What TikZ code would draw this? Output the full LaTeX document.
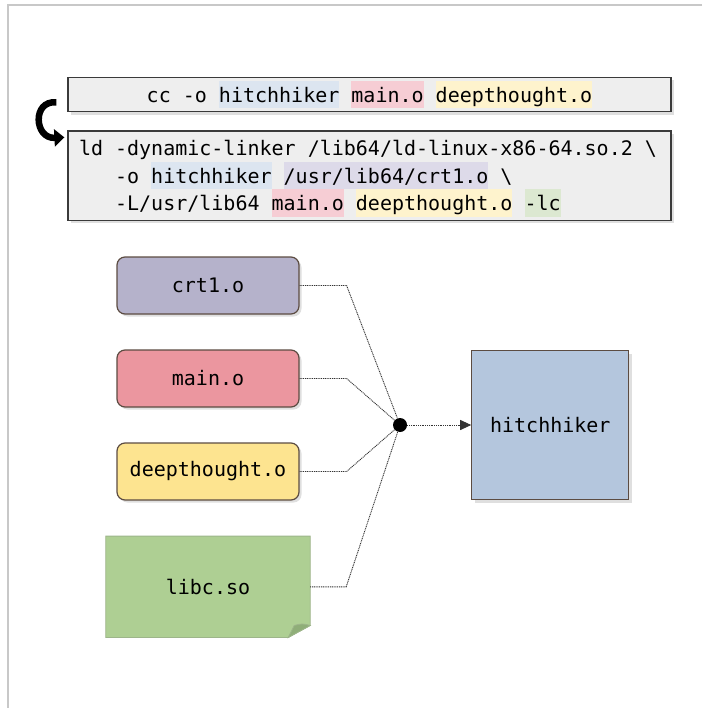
\documentclass[tikz,border=0pt]{standalone}
\usepackage{fontspec}
\setmonofont{DejaVu Sans Mono}
\usepackage{tikz}
\usetikzlibrary{positioning,arrows.meta,shadows,backgrounds}

\definecolor{cmdgray}{HTML}{EEEEEE}
\definecolor{cmdline}{HTML}{3A3A3A}
\definecolor{hlblue}{HTML}{DCE5F0}
\definecolor{hlpink}{HTML}{F6CDD4}
\definecolor{hlyellow}{HTML}{FEF3CD}
\definecolor{hlpurple}{HTML}{DDDAE9}
\definecolor{hlgreen}{HTML}{DCE8D1}
\definecolor{crtfill}{HTML}{B5B2CB}
\definecolor{mainfill}{HTML}{EB969F}
\definecolor{deepfill}{HTML}{FDE490}
\definecolor{libcfill}{HTML}{AECF93}
\definecolor{libcflap}{HTML}{8FAE78}
\definecolor{libcline}{HTML}{9DB58A}
\definecolor{hitchfill}{HTML}{B4C6DD}
\definecolor{objline}{HTML}{5C4C42}
\definecolor{wiregray}{HTML}{333333}
\definecolor{framegray}{HTML}{C8C8C8}

\newcommand{\codefont}{\ttfamily\fontsize{20}{27.5}\selectfont}
\newcommand{\codespace}{\spaceskip=\fontcharwd\font 120\relax\xspaceskip=\spaceskip}
\newcommand{\lstrut}{\rule[-6pt]{0pt}{27.5pt}}
\newcommand{\hl}[2]{{\setlength{\fboxsep}{0pt}\colorbox{#1}{\lstrut#2}}}

\tikzset{
  code/.style={font=\codefont},
  cmdbox/.style={code, draw=cmdline, fill=cmdgray, line width=1.2pt,
    minimum width=603pt, inner ysep=3.5pt,
    drop shadow={shadow xshift=3pt, shadow yshift=-3pt, opacity=.25}},
  objbox/.style={code, draw=objline, line width=1.2pt, rounded corners=8pt,
    minimum width=182pt, minimum height=57pt,
    drop shadow={shadow xshift=2.5pt, shadow yshift=-2.5pt, opacity=.25}},
  exebox/.style={code, draw=objline, fill=hitchfill, line width=1.2pt,
    minimum width=157pt, minimum height=149pt,
    drop shadow={shadow xshift=3pt, shadow yshift=-3pt, opacity=.25}},
  notebox/.style={code, minimum width=204pt, minimum height=101pt},
  junction/.style={circle, fill=black, inner sep=0pt, minimum size=14pt},
  wire/.style={draw=wiregray, line width=0.9pt, dash pattern=on 1pt off 0.8pt},
}

\begin{document}
\begin{tikzpicture}[x=1pt,y=-1pt]

  \useasboundingbox (0,0) rectangle (702,708);
  \draw[framegray, line width=1.5pt] (702,5) -- (8,5) -- (8,708);

  \node[cmdbox] (cc) at (369.5,94.5) {\lstrut cc -o \hl{hlblue}{hitchhiker} \hl{hlpink}{main.o} \hl{hlyellow}{deepthought.o}};
  \node[cmdbox, text width=581pt, inner xsep=11pt, align=left] (ld) at (369.5,175.75) {\codespace
    \lstrut ld -dynamic-linker /lib64/ld-linux-x86-64.so.2 \textbackslash\\
    \lstrut\hspace*{36.12pt}-o \hl{hlblue}{hitchhiker} \hl{hlpurple}{/usr/lib64/crt1.o} \textbackslash\\
    \lstrut\hspace*{36.12pt}-L/usr/lib64 \hl{hlpink}{main.o} \hl{hlyellow}{deepthought.o} \hl{hlgreen}{-lc}};

  \draw[line width=6.5pt, -{Triangle[length=10pt,width=17pt]}]
    ([xshift=-11pt,yshift=10pt]cc.south west) .. controls (32,100) and (34,139) .. ([xshift=-3pt,yshift=-7pt]ld.north west);

  \node[objbox, fill=crtfill] (crt1) at (208,285.5) {crt1.o};
  \node[objbox, fill=mainfill] (main) [below=34.8pt of crt1] {main.o};
  \node[objbox, fill=deepfill] (deep) [below=34.8pt of main] {deepthought.o};
  \node[notebox] (libc) [below=35.5pt of deep] {libc.so};

  \node[junction] (dot) at (400,425) {};
  \node[exebox] (hitch) [right=64pt of dot] {hitchhiker};

  \begin{scope}[on background layer]
    \fill[black, opacity=.22, shift={(4pt,-4pt)}] (libc.north west) -- (libc.north east) -- ([yshift=12pt]libc.south east)
      -- ([xshift=-22pt]libc.south east) -- (libc.south west) -- cycle;
    \filldraw[fill=libcfill, draw=libcline, line width=0.8pt] (libc.north west) -- (libc.north east) -- ([yshift=12pt]libc.south east)
      -- ([xshift=-22pt]libc.south east) -- (libc.south west) -- cycle;
    \filldraw[fill=libcflap, draw=libcline, line width=0.8pt] ([xshift=-22pt]libc.south east) -- ([xshift=-16pt,yshift=12pt]libc.south east)
      .. controls ([xshift=-8pt,yshift=14pt]libc.south east) .. ([yshift=12pt]libc.south east) -- cycle;
  \end{scope}

  \draw[wire] (crt1.east) -- ++(47,0) -- (dot);
  \draw[wire] (main.east) -- ++(47,0) -- (dot);
  \draw[wire] (deep.east) -- ++(47,0) -- (dot);
  \draw[wire] (libc.east) -- ++(36,0) -- (dot);
  \draw[wire, -{Triangle[length=11pt,width=10pt]}] (dot) -- (hitch);

\end{tikzpicture}
\end{document}
